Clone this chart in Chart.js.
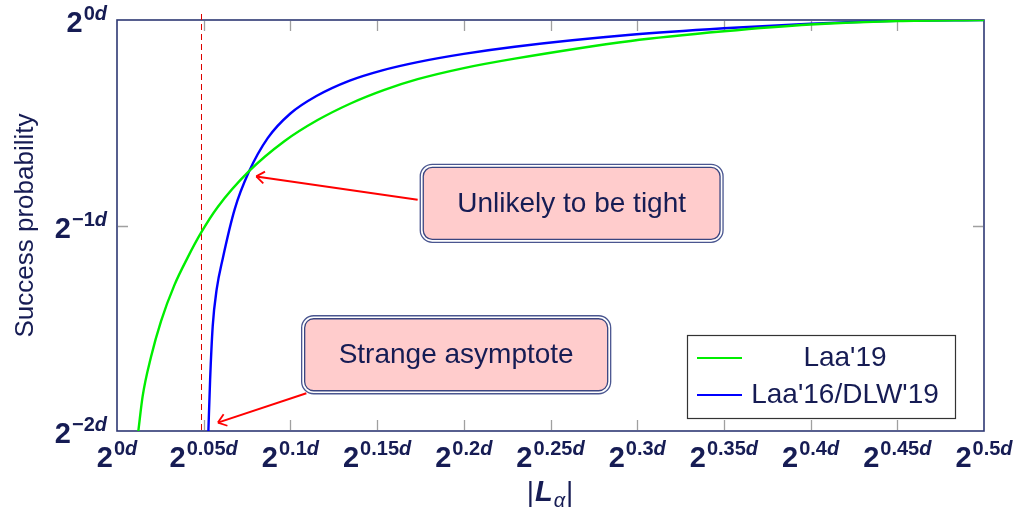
<!DOCTYPE html>
<html>
<head>
<meta charset="utf-8">
<script src="https://cdn.jsdelivr.net/npm/chart.js@4.4.1/dist/chart.umd.min.js"></script>
<style>
  html, body { margin: 0; padding: 0; background: #fff; }
  #wrap { width: 1014px; height: 511px; }
</style>
</head>
<body>
<div id="wrap"><canvas id="chart" width="1014" height="511"></canvas></div>
<script>
// ---- data (log2 scale, exponents of d) ----
const xTicks = [0, 0.05, 0.1, 0.15, 0.2, 0.25, 0.3, 0.35, 0.4, 0.45, 0.5];
const xTickLabels = ['0', '0.05', '0.1', '0.15', '0.2', '0.25', '0.3', '0.35', '0.4', '0.45', '0.5'];
const yTicks = [0, -1, -2];
const yTickLabels = ['0', '\u22121', '\u22122'];

const laa19X = [0.0123, 0.0148, 0.0196, 0.0254, 0.0331, 0.0408, 0.0485, 0.0581, 0.0760, 0.0965, 0.1157, 0.1350, 0.1542, 0.1734, 0.2000, 0.2294, 0.2963, 0.35, 0.40, 0.45, 0.50];
const laa19Y = [-2.0, -1.83, -1.64, -1.465, -1.29, -1.155, -1.035, -0.91, -0.737, -0.59, -0.487, -0.405, -0.340, -0.288, -0.234, -0.188, -0.102, -0.055, -0.022, -0.005, 0];

const laa16X = [0.0527, 0.0537, 0.0552, 0.0575, 0.0610, 0.0679, 0.0760, 0.0869, 0.1000, 0.1150, 0.1342, 0.1530, 0.1734, 0.2000, 0.2294, 0.2963, 0.35, 0.40, 0.45, 0.50];
const laa16Y = [-2.0, -1.75, -1.49, -1.31, -1.16, -0.92, -0.74, -0.575, -0.455, -0.37, -0.295, -0.245, -0.205, -0.165, -0.13, -0.072, -0.04, -0.018, -0.004, 0];

const asymptoteX = 0.0485;

// callouts: box centre and arrow (from -> to), in data units
const noteTexts = ['Unlikely to be tight', 'Strange asymptote'];
const noteCenters = [[0.2622, -0.892], [0.1956, -1.629]];
const arrowFrom = [[0.1734, -0.875], [0.1092, -1.816]];
const arrowTo = [[0.0803, -0.761], [0.0582, -1.959]];

const seriesNames = ["Laa'19", "Laa'16/DLW'19"];
const seriesColors = ['#00ee00', '#0000ff'];

// ---- style ----
const NAVY = '#161c54';
const FRAME = '#2d3873';
const FONT = '"Liberation Sans", Arial, sans-serif';

function toPoints(xs, ys) { return xs.map((x, i) => ({ x, y: ys[i] })); }

// 2^{exp d} drawn as base + superscript
function powWidth(ctx, exp) {
    ctx.font = 'bold 29px ' + FONT;
    const wb = ctx.measureText('2').width;
    ctx.font = 'bold 20px ' + FONT;
    const we = ctx.measureText(exp).width;
    ctx.font = 'italic bold 20px ' + FONT;
    const wd = ctx.measureText('d').width;
    return { wb, we, wd, total: wb + we + wd + 1 };
}
function drawPow(ctx, exp, x, y) {
    const w = powWidth(ctx, exp);
    ctx.fillStyle = NAVY;
    ctx.textAlign = 'left';
    ctx.textBaseline = 'alphabetic';
    ctx.font = 'bold 29px ' + FONT;
    ctx.fillText('2', x, y);
    ctx.font = 'bold 20px ' + FONT;
    ctx.fillText(exp, x + w.wb + 1, y - 12);
    ctx.font = 'italic bold 20px ' + FONT;
    ctx.fillText('d', x + w.wb + 1 + w.we, y - 12);
}

function roundRect(ctx, x, y, w, h, r) {
    ctx.beginPath();
    ctx.moveTo(x + r, y);
    ctx.arcTo(x + w, y, x + w, y + h, r);
    ctx.arcTo(x + w, y + h, x, y + h, r);
    ctx.arcTo(x, y + h, x, y, r);
    ctx.arcTo(x, y, x + w, y, r);
    ctx.closePath();
}

function drawArrow(ctx, x1, y1, x2, y2) {
    const dx = x2 - x1, dy = y2 - y1;
    const len = Math.hypot(dx, dy);
    const ux = dx / len, uy = dy / len;
    const nx = -uy, ny = ux;
    ctx.strokeStyle = '#ff0000';
    ctx.lineWidth = 2;
    ctx.beginPath();
    ctx.moveTo(x1, y1);
    ctx.lineTo(x2, y2);
    ctx.stroke();
    // curved "to" tip
    ctx.lineWidth = 1.8;
    [1, -1].forEach(s => {
        ctx.beginPath();
        ctx.moveTo(x2 - ux * 8 + nx * 6 * s, y2 - uy * 8 + ny * 6 * s);
        ctx.quadraticCurveTo(x2 - ux * 2 + nx * 1.5 * s, y2 - uy * 2 + ny * 1.5 * s, x2, y2);
        ctx.stroke();
    });
}

const overlay = {
    id: 'overlay',
    beforeDatasetsDraw(chart) {
        const { ctx, chartArea: a, scales: { x: xs, y: ys } } = chart;
        ctx.save();
        // frame
        ctx.strokeStyle = FRAME;
        ctx.lineWidth = 1.6;
        ctx.strokeRect(a.left, a.top, a.right - a.left, a.bottom - a.top);
        // inward ticks (mirrored)
        ctx.strokeStyle = '#a0a0a0';
        ctx.lineWidth = 1.3;
        xTicks.slice(1, -1).forEach(v => {
            const px = Math.round(xs.getPixelForValue(v)) + 0.5;
            ctx.beginPath();
            ctx.moveTo(px, a.bottom - 1); ctx.lineTo(px, a.bottom - 11);
            ctx.moveTo(px, a.top + 1); ctx.lineTo(px, a.top + 11);
            ctx.stroke();
        });
        yTicks.slice(1, -1).forEach(v => {
            const py = Math.round(ys.getPixelForValue(v)) + 0.5;
            ctx.beginPath();
            ctx.moveTo(a.left + 1, py); ctx.lineTo(a.left + 11, py);
            ctx.moveTo(a.right - 1, py); ctx.lineTo(a.right - 11, py);
            ctx.stroke();
        });
        // asymptote
        const ax = Math.round(xs.getPixelForValue(asymptoteX)) + 0.5;
        ctx.strokeStyle = '#dd0000';
        ctx.lineWidth = 1;
        ctx.setLineDash([6, 4]);
        ctx.beginPath();
        ctx.moveTo(ax, a.top - 6);
        ctx.lineTo(ax, a.bottom);
        ctx.stroke();
        ctx.restore();
    },
    afterDraw(chart) {
        const { ctx, chartArea: a, scales: { x: xs, y: ys } } = chart;
        ctx.save();

        // tick labels
        xTicks.forEach((v, i) => {
            const exp = xTickLabels[i];
            const w = powWidth(ctx, exp);
            drawPow(ctx, exp, xs.getPixelForValue(v) - w.total / 2, a.bottom + 36);
        });
        yTicks.forEach((v, i) => {
            const exp = yTickLabels[i];
            const w = powWidth(ctx, exp);
            drawPow(ctx, exp, a.left - 10 - w.total, ys.getPixelForValue(v) + 12);
        });

        // axis titles
        ctx.fillStyle = NAVY;
        ctx.textBaseline = 'alphabetic';
        const cx = (a.left + a.right) / 2;
        const parts = [
            ['|', '28px ' + FONT, 0],
            ['L', 'italic bold 29px ' + FONT, 0],
            ['\u03b1', 'italic 20px ' + FONT, 6],
            ['|', '28px ' + FONT, 0]
        ];
        let tw = 0;
        parts.forEach(p => { ctx.font = p[1]; tw += ctx.measureText(p[0]).width + 1; });
        let tx = cx - tw / 2;
        ctx.textAlign = 'left';
        parts.forEach(p => {
            ctx.font = p[1];
            ctx.fillText(p[0], tx, 501 + p[2]);
            tx += ctx.measureText(p[0]).width + 1;
        });

        ctx.save();
        ctx.translate(33, (a.top + a.bottom) / 2);
        ctx.rotate(-Math.PI / 2);
        ctx.textAlign = 'center';
        ctx.font = '26px ' + FONT;
        ctx.fillText('Success probability', 0, 0);
        ctx.restore();

        // callouts
        noteTexts.forEach((t, i) => {
            drawArrow(ctx,
                xs.getPixelForValue(arrowFrom[i][0]), ys.getPixelForValue(arrowFrom[i][1]),
                xs.getPixelForValue(arrowTo[i][0]), ys.getPixelForValue(arrowTo[i][1]));
            ctx.font = '28px ' + FONT;
            const w = ctx.measureText(t).width + 74;
            const h = 78;
            const bx = xs.getPixelForValue(noteCenters[i][0]) - w / 2;
            const by = ys.getPixelForValue(noteCenters[i][1]) - h / 2;
            roundRect(ctx, bx, by, w, h, 12);
            ctx.fillStyle = '#fff';
            ctx.fill();
            ctx.strokeStyle = '#4a5690';
            ctx.lineWidth = 1.3;
            ctx.stroke();
            roundRect(ctx, bx + 3, by + 3, w - 6, h - 6, 9);
            ctx.fillStyle = '#ffcccc';
            ctx.fill();
            ctx.strokeStyle = '#3a4580';
            ctx.lineWidth = 1.3;
            ctx.stroke();
            ctx.fillStyle = NAVY;
            ctx.textAlign = 'center';
            ctx.textBaseline = 'middle';
            ctx.fillText(t, bx + w / 2, by + h / 2 + 1);
        });

        // legend (south-east corner of the plot)
        const lw = 268, lh = 83;
        const lx = a.right - 29 - lw, ly = a.bottom - 13 - lh;
        ctx.fillStyle = '#fff';
        ctx.fillRect(lx, ly, lw, lh);
        ctx.strokeStyle = '#333';
        ctx.lineWidth = 1.2;
        ctx.strokeRect(lx + 0.5, ly + 0.5, lw, lh);
        seriesNames.forEach((n, i) => {
            const yy = ly + 23 + i * 37;
            ctx.strokeStyle = seriesColors[i];
            ctx.lineWidth = 2;
            ctx.beginPath();
            ctx.moveTo(lx + 10, yy); ctx.lineTo(lx + 55, yy);
            ctx.stroke();
            ctx.fillStyle = NAVY;
            ctx.font = '28px ' + FONT;
            ctx.textAlign = 'center';
            ctx.textBaseline = 'alphabetic';
            ctx.fillText(n, lx + 158, yy + 8);
        });
        ctx.restore();
    }
};

new Chart(document.getElementById('chart'), {
    type: 'scatter',
    data: {
        datasets: [
            {
                label: seriesNames[0],
                data: toPoints(laa19X, laa19Y),
                showLine: true,
                borderColor: seriesColors[0],
                borderWidth: 2.4,
                pointRadius: 0,
                cubicInterpolationMode: 'monotone'
            },
            {
                label: seriesNames[1],
                data: toPoints(laa16X, laa16Y),
                showLine: true,
                borderColor: seriesColors[1],
                borderWidth: 2.4,
                pointRadius: 0,
                cubicInterpolationMode: 'monotone'
            }
        ]
    },
    options: {
        responsive: false,
        animation: false,
        devicePixelRatio: 1,
        layout: { padding: { top: 20, right: 30, left: 0, bottom: 0 } },
        scales: {
            x: {
                type: 'linear', min: 0, max: 0.5,
                ticks: { display: false, stepSize: 0.05 },
                grid: { display: false },
                border: { display: false },
                afterFit: s => { s.height = 80; }
            },
            y: {
                type: 'linear', min: -2, max: 0,
                ticks: { display: false, stepSize: 1 },
                grid: { display: false },
                border: { display: false },
                afterFit: s => { s.width = 117; }
            }
        },
        plugins: {
            legend: { display: false },
            tooltip: { enabled: false }
        }
    },
    plugins: [overlay]
});
</script>
</body>
</html>
